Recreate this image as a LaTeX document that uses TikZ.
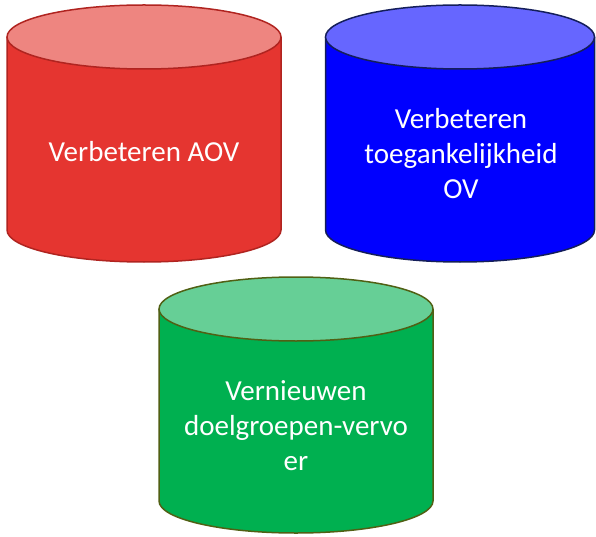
\documentclass[tikz,border=0pt]{standalone}
\usepackage{fontspec}
\setmainfont{Carlito}
\usepackage{tikz}
\usetikzlibrary{positioning,calc}

\definecolor{aovbody}{RGB}{229,53,48}
\definecolor{aovtop}{RGB}{238,133,128}
\definecolor{aovline}{RGB}{176,36,32}
\definecolor{ovbody}{RGB}{0,0,255}
\definecolor{ovtop}{RGB}{102,102,255}
\definecolor{ovline}{RGB}{20,30,90}
\definecolor{dgvbody}{RGB}{0,176,80}
\definecolor{dgvtop}{RGB}{102,207,150}
\definecolor{dgvline}{RGB}{80,96,20}

% drum: center x, top y, bottom y, x radius, body, top, line
\newcommand{\drum}[7]{%
  \fill[#5] (#1-#4,#2) -- (#1-#4,#3) arc[start angle=180,end angle=360,x radius=#4,y radius=32]
    -- (#1+#4,#2) -- cycle;
  \draw[#7,line width=1.5pt] (#1-#4,#2) -- (#1-#4,#3) arc[start angle=180,end angle=360,x radius=#4,y radius=32]
    -- (#1+#4,#2);
  \draw[#7,line width=1.5pt,fill=#6] (#1,#2) ellipse[x radius=#4,y radius=32];
}

\begin{document}
\begin{tikzpicture}[x=1pt,y=1pt,
  cantext/.style={text=white,align=center,font=\fontsize{29}{35}\selectfont,inner sep=0pt}]
\useasboundingbox (0,0) rectangle (596,536);

\drum{144}{499}{306}{137}{aovbody}{aovtop}{aovline}
\drum{460}{499}{306}{134.5}{ovbody}{ovtop}{ovline}
\drum{296}{227}{35}{137}{dgvbody}{dgvtop}{dgvline}

\node[cantext,anchor=base] (aov) at (144,374) {Verbeteren AOV};
\node[cantext] (ov) at (461,382) {Verbeteren\\toegankelijkheid\\OV};
\node[cantext] (dgv) at (296,110) {Vernieuwen\\doelgroepen-vervo\\er};
\end{tikzpicture}
\end{document}
